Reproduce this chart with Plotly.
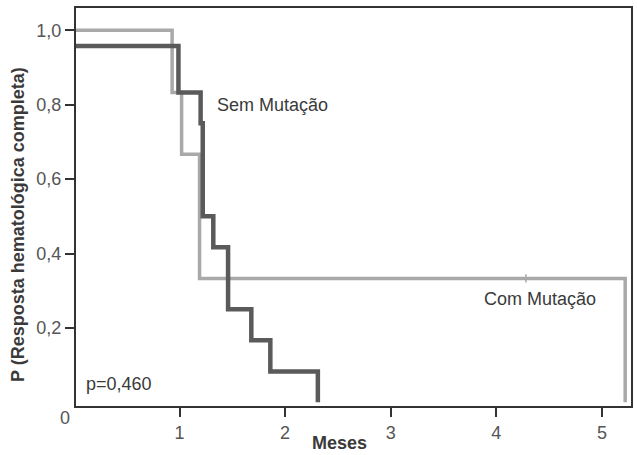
import plotly.graph_objects as go

# Kaplan-Meier step data (months, probability)
sem_t = [0, 0.99, 1.20, 1.22, 1.32, 1.46, 1.68, 1.86, 2.31]
sem_p = [0.958, 0.833, 0.75, 0.5, 0.417, 0.25, 0.167, 0.083, 0.0]

com_t = [0, 0.93, 1.02, 1.19, 5.22]
com_p = [1.0, 0.833, 0.667, 0.333, 0.0]

censor_t = [4.28]
censor_p = [0.333]

y_ticks = [0.2, 0.4, 0.6, 0.8, 1.0]
y_labels = ["0,2", "0,4", "0,6", "0,8", "1,0"]
x_ticks = [1, 2, 3, 4, 5]
x_labels = ["1", "2", "3", "4", "5"]

FONT = "Liberation Sans, Arial, Helvetica, sans-serif"
DARK = "#5a5a5a"
LIGHT = "#a9a9a9"
AXIS = "#333333"

fig = go.Figure()
fig.add_trace(go.Scatter(x=com_t, y=com_p, mode="lines", line=dict(shape="hv", color=LIGHT, width=3.5),
                         showlegend=False, hoverinfo="skip"))
fig.add_trace(go.Scatter(x=censor_t, y=censor_p, mode="markers",
                         marker=dict(symbol="line-ns-open", size=6, color=LIGHT, line=dict(width=1.5, color=LIGHT)),
                         showlegend=False, hoverinfo="skip"))
fig.add_trace(go.Scatter(x=sem_t, y=sem_p, mode="lines", line=dict(shape="hv", color=DARK, width=4.5),
                         showlegend=False, hoverinfo="skip"))

ann_font = dict(family=FONT, size=18, color="#3a3a3a")
fig.add_annotation(x=1.335, y=0.80, text="Sem Mutação", showarrow=False, xanchor="left", yanchor="middle", font=ann_font)
fig.add_annotation(x=3.86, y=0.278, text="Com Mutação", showarrow=False, xanchor="left", yanchor="middle", font=ann_font)
fig.add_annotation(x=0.10, y=0.05, text="p=0,460", showarrow=False, xanchor="left", yanchor="middle", font=ann_font)
fig.add_annotation(xref="paper", yref="paper", x=0, y=0, text="0", showarrow=False, xanchor="center", yanchor="middle",
                   xshift=-11, yshift=-12, font=dict(family=FONT, size=18, color="#555555"))
fig.add_annotation(xref="paper", yref="paper", x=0, y=0.455, xshift=-58, text="<b>P (Resposta hematológica completa)</b>",
                   showarrow=False, textangle=-90, xanchor="center", yanchor="middle",
                   font=dict(family=FONT, size=18, color="#3a3a3a"))
fig.add_annotation(xref="paper", yref="paper", x=0.474, y=0, yshift=-37, text="<b>Meses</b>",
                   showarrow=False, xanchor="center", yanchor="middle",
                   font=dict(family=FONT, size=18, color="#3a3a3a"))

fig.update_layout(
    width=637, height=455,
    margin=dict(l=76, r=4, t=8, b=49),
    plot_bgcolor="white", paper_bgcolor="white",
    font=dict(family=FONT, size=18, color="#555555"),
)
axis_common = dict(ticks="outside", ticklen=9, tickwidth=2, tickcolor=AXIS,
                   showline=True, linecolor=AXIS, linewidth=2, mirror=True,
                   showgrid=False, zeroline=False, tickfont=dict(family=FONT, size=18, color="#555555"))
fig.update_xaxes(range=[0.02, 5.275], tickmode="array", tickvals=x_ticks, ticktext=x_labels, **axis_common)
fig.update_yaxes(range=[-0.01, 1.06], tickmode="array", tickvals=y_ticks, ticktext=y_labels, **axis_common)

fig.write_html("out.html")
